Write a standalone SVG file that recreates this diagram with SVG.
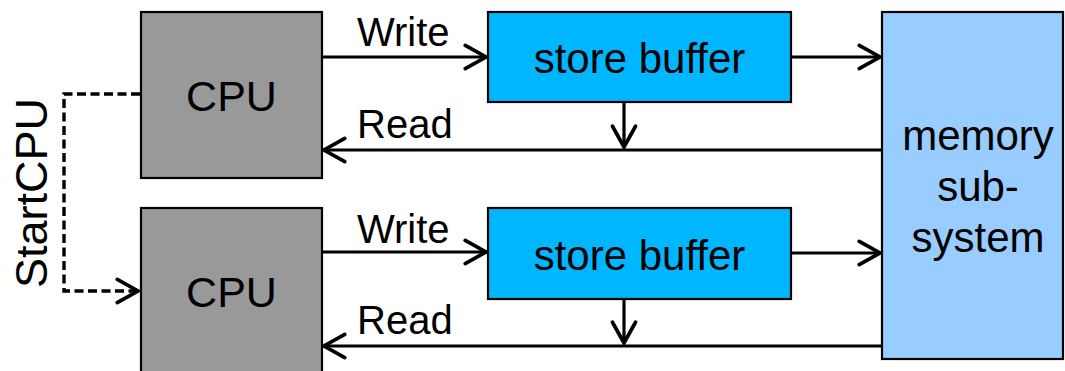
<svg xmlns="http://www.w3.org/2000/svg" width="1065" height="371" viewBox="0 0 1065 371">
  <style>
    .box { stroke: #000; stroke-width: 2.2; }
    .cpu { fill: #999999; }
    .buf { fill: #00B6FF; }
    .mem { fill: #99CCFF; }
    .lbl { font-family: "Liberation Sans", Arial, sans-serif; font-size: 42px; fill: #000; text-anchor: middle; }
    .big { font-size: 43px; }
    .sig { font-family: "Liberation Sans", Arial, sans-serif; font-size: 40px; fill: #000; }
    .vert { font-size: 45px; text-anchor: middle; }
    .wire { stroke: #000; stroke-width: 3.2; fill: none; }
    .dash { stroke: #000; stroke-width: 3.4; fill: none; stroke-dasharray: 9 4.5; }
  </style>
  <defs>
    <marker id="arrow" markerUnits="userSpaceOnUse" markerWidth="30" markerHeight="30" viewBox="-22 -13 26 26" refX="0" refY="0" orient="auto" overflow="visible">
      <path d="M-18,-10 L0,0 L-18,10" fill="none" stroke="#000" stroke-width="3.2" stroke-linecap="round" stroke-linejoin="miter"/>
    </marker>
  </defs>

  <rect width="1065" height="371" fill="#fff"/>

  <!-- connectors -->
  <g id="connectors">
    <!-- upper processor -->
    <line class="wire" x1="322" y1="57" x2="486" y2="57" marker-end="url(#arrow)"/>
    <line class="wire" x1="791" y1="57" x2="880" y2="57" marker-end="url(#arrow)"/>
    <line class="wire" x1="624" y1="102" x2="624" y2="147" marker-end="url(#arrow)"/>
    <line class="wire" x1="882" y1="150" x2="324" y2="150" marker-end="url(#arrow)"/>
    <!-- lower processor -->
    <line class="wire" x1="322" y1="252" x2="486" y2="252" marker-end="url(#arrow)"/>
    <line class="wire" x1="791" y1="253" x2="880" y2="253" marker-end="url(#arrow)"/>
    <line class="wire" x1="624" y1="299" x2="624" y2="343" marker-end="url(#arrow)"/>
    <line class="wire" x1="882" y1="346" x2="324" y2="346" marker-end="url(#arrow)"/>
    <!-- start signal -->
    <path class="dash" d="M140,94 H64 V291 H138" marker-end="url(#arrow)"/>
    <!-- signal labels -->
    <text class="sig" x="357" y="46">Write</text>
    <text class="sig" x="357" y="138">Read</text>
    <text class="sig" x="357" y="243">Write</text>
    <text class="sig" x="357" y="334">Read</text>
    <text class="sig vert" transform="translate(47,193) rotate(-90)">StartCPU</text>
  </g>

  <g id="cpu1">
    <rect class="box cpu" x="141" y="12" width="181" height="166"/>
    <text class="lbl big" x="231.5" y="111">CPU</text>
  </g>
  <g id="cpu2">
    <rect class="box cpu" x="141" y="208" width="181" height="175"/>
    <text class="lbl big" x="231.5" y="307">CPU</text>
  </g>
  <g id="storebuffer1">
    <rect class="box buf" x="488" y="12" width="303" height="90"/>
    <text class="lbl" x="639.5" y="73">store buffer</text>
  </g>
  <g id="storebuffer2">
    <rect class="box buf" x="488" y="208" width="303" height="91"/>
    <text class="lbl" x="639.5" y="270">store buffer</text>
  </g>
  <g id="memory">
    <rect class="box mem" x="882" y="12" width="181" height="347"/>
    <text class="lbl" x="978" y="150">memory</text>
    <text class="lbl" x="978" y="201">sub-</text>
    <text class="lbl" x="978" y="252">system</text>
  </g>
</svg>
